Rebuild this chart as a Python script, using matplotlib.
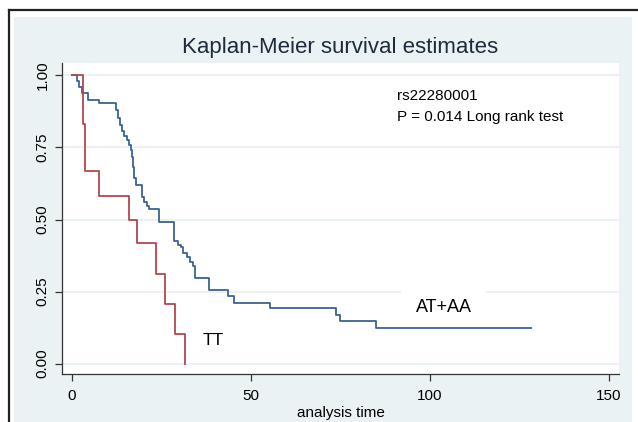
import numpy as np
import matplotlib.pyplot as plt
from matplotlib.patches import Rectangle
from matplotlib.lines import Line2D

# Kaplan-Meier step data (time of drop, survival after drop)
aa_time = [0, 1.3, 2.0, 2.9, 4.4, 7.6, 12.2, 12.8, 13.4, 14.1, 14.6, 15.3, 15.8,
           16.4, 16.7, 17.1, 17.4, 17.9, 19.5, 20.2, 20.9, 21.6, 24.4, 28.6,
           29.7, 30.4, 31.1, 32.0, 33.0, 33.7, 34.4, 38.3, 43.5, 45.3, 55.3,
           73.7, 74.9, 84.9]
aa_surv = [1.0, 0.979, 0.958, 0.940, 0.915, 0.903, 0.881, 0.852, 0.828, 0.808,
           0.790, 0.775, 0.760, 0.741, 0.718, 0.683, 0.643, 0.620, 0.579, 0.562,
           0.547, 0.537, 0.492, 0.425, 0.411, 0.403, 0.383, 0.371, 0.353, 0.339,
           0.298, 0.255, 0.233, 0.210, 0.192, 0.170, 0.147, 0.122]
aa_end = 128.1

tt_time = [0, 3.0, 3.7, 7.6, 16.0, 18.1, 23.4, 26.0, 28.8, 31.6]
tt_surv = [1.0, 0.833, 0.667, 0.583, 0.5, 0.417, 0.3125, 0.208, 0.104, 0.0]
tt_end = 31.6

y_ticks = [0, 0.25, 0.5, 0.75, 1.0]
y_labels = ['0.00', '0.25', '0.50', '0.75', '1.00']
x_ticks = [0, 50, 100, 150]

bg = '#eaf2f3'
navy = '#3a6592'
maroon = '#b3474f'
narrow = ['Liberation Sans Narrow', 'Liberation Sans', 'DejaVu Sans']

fig = plt.figure(figsize=(6.38, 4.22), dpi=100)
W, H = 638, 422

# graph region background and outer frame
fig.patches.append(Rectangle((14 / W, 0), (632 - 14) / W, 1 - 17 / H,
                             transform=fig.transFigure, facecolor=bg,
                             edgecolor='none', zorder=-10))
fig.lines.append(Line2D([9 / W, 9 / W], [0, 1 - 10 / H], transform=fig.transFigure,
                        color='#222222', lw=1.6, zorder=-5))
fig.lines.append(Line2D([9 / W, 1], [1 - 10 / H, 1 - 10 / H], transform=fig.transFigure,
                        color='#222222', lw=1.6, zorder=-5))

ax = fig.add_axes([62 / W, 1 - 374 / H, (619 - 62) / W, (374 - 63) / H])
ax.set_zorder(1)
ax.set_facecolor('white')
ax.set_xlim(-2.8, 152.8)
ax.set_ylim(-0.036, 1.043)

for s in ['top', 'right']:
    ax.spines[s].set_visible(False)
for s in ['left', 'bottom']:
    ax.spines[s].set_color('#333333')
    ax.spines[s].set_linewidth(0.9)

ax.set_yticks(y_ticks)
ax.set_yticklabels(y_labels, rotation=90, va='center', fontsize=11, family=narrow)
ax.set_xticks(x_ticks)
ax.set_xticklabels([str(v) for v in x_ticks], fontsize=11, family=narrow)
ax.tick_params(axis='both', length=5, width=0.9, color='#333333')
ax.tick_params(axis='x', pad=6)
ax.tick_params(axis='y', pad=4)
ax.grid(axis='y', color=bg, lw=1.5)
ax.set_axisbelow(True)

ax.step(aa_time + [aa_end], aa_surv + [aa_surv[-1]], where='post', color=navy, lw=1.3, zorder=3)
ax.step(tt_time + [tt_end], tt_surv + [tt_surv[-1]], where='post', color=maroon, lw=1.3, zorder=3)

ax.set_xlabel('analysis time', fontsize=11, family=narrow, labelpad=2)
fig.text(340 / W, 1 - 47 / H, 'Kaplan-Meier survival estimates', ha='center', va='center',
         fontsize=16, family=narrow, color='#1e2b3c')

ax.text(90.7, 0.927, 'rs22280001', fontsize=11, family='Liberation Sans', va='center')
ax.text(90.7, 0.857, 'P = 0.014 Long rank test', fontsize=11, family='Liberation Sans',
        va='center')
ax.text(103.8, 0.196, 'AT+AA', fontsize=13, family='Liberation Sans', ha='center',
        va='center', zorder=1.5,
        bbox=dict(boxstyle='square,pad=0.8', facecolor='white', edgecolor='none'))
ax.text(39.5, 0.08, 'TT', fontsize=12.5, family='Liberation Sans', ha='center', va='center')

fig.savefig('out.png', dpi=100)
